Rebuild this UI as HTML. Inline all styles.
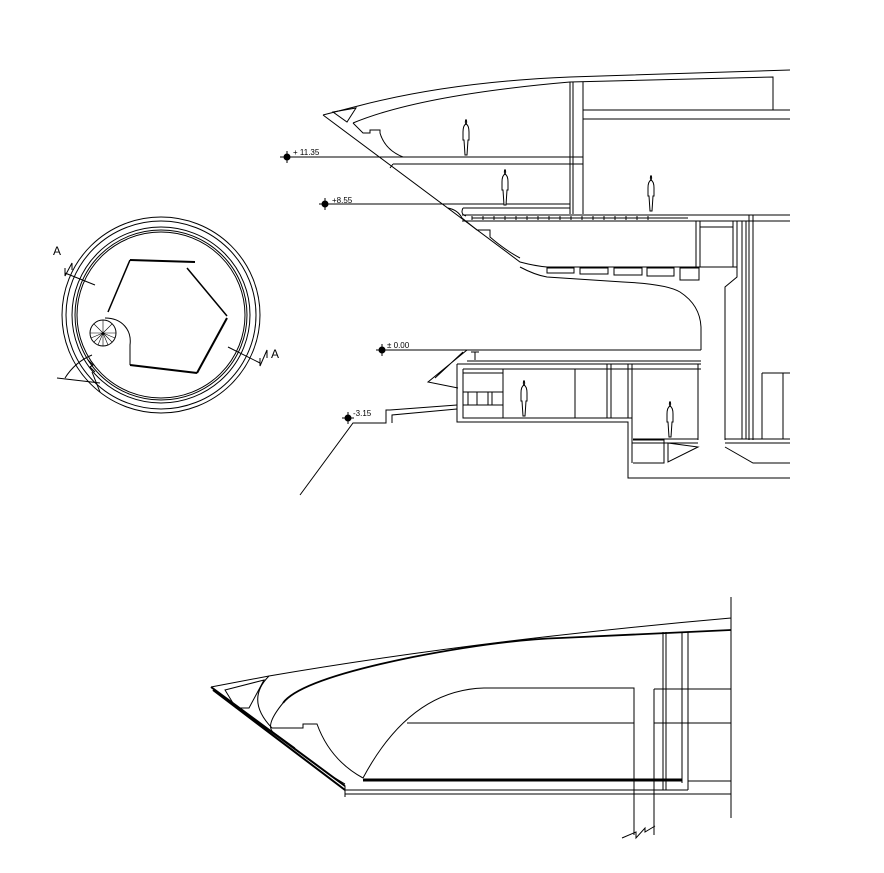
<!DOCTYPE html>
<html><head><meta charset="utf-8"><style>
html,body{margin:0;padding:0;background:#fff}
svg{display:block}
text{font-family:"Liberation Sans",sans-serif;fill:#000}
</style></head><body>
<svg width="884" height="873" viewBox="0 0 884 873" xmlns="http://www.w3.org/2000/svg">
<defs>
<g id="fig"><path d="M0,0 c-2,0 -2,3 -1,4 c-2,1 -3,3 -3,8 l0,8 l1,0 l1,15 l2,0 l1,-15 l1,0 l0,-8 c0,-5 -1,-7 -3,-8 c1,-1 1,-4 -1,-4z" fill="#fff" stroke="#000" stroke-width="1"/></g>
<g id="em"><circle r="3.5" fill="#000"/><line x1="-6" y1="0" x2="6" y2="0" stroke="#000"/><line x1="0" y1="-6" x2="0" y2="6" stroke="#000"/></g>
</defs>
<g fill="none" stroke="#000" stroke-width="1">
<ellipse cx="161" cy="315" rx="99" ry="98"/>
<ellipse cx="161" cy="315" rx="95" ry="94"/>
<ellipse cx="161" cy="315" rx="89" ry="88"/>
<ellipse cx="161" cy="315" rx="86" ry="85"/>
<ellipse cx="161" cy="315" rx="84" ry="83"/>
<path d="M130,260 L195,262" stroke-width="2"/>
<path d="M187,268 L227,316" stroke-width="1.5"/>
<path d="M227,318 L197,373" stroke-width="2"/>
<path d="M197,373 L130,365" stroke-width="2"/>
<path d="M130,260 L108,312" stroke-width="1.5"/>
<path d="M105,318 C122,318 132,330 130,345 L130,365"/>
<circle cx="103" cy="333" r="13"/>
<path d="M103,333 l-13,0 M103,333 l13,0 M103,333 l0,-13 M103,333 l0,13 M103,333 l-9,-9 M103,333 l9,9 M103,333 l9,-9 M103,333 l-9,9 M103,333 l-5,12 M103,333 l5,12 M103,333 l-12,5 M103,333 l12,5" stroke-width="0.6"/>
<path d="M65,273 L95,285 M65,268 L65,276 L72,263 L72,270"/>
<path d="M228,347 L260,363 M260,358 L260,366 L267,350 L267,358"/>
<path d="M57,378 L100,383 M65,378 Q75,362 92,355 M88,360 l5,5 l-3,2 l5,5 M92,372 L100,392"/>
<path d="M323,115 L358,106 Q450,82 570,77 L790,70"/>
<path d="M333,112 L356,108 L347,122 Z"/>
<path d="M353,123 Q420,95 570,82 L773,77 L773,110"/>
<path d="M583,110 L790,110 M583,119 L790,119"/>
<path d="M353,123 L363,133 L370,133 L370,130 L380,130 L380,133 Q385,150 403,157"/>
<path d="M570,82 L570,214 M573,82 L573,214 M583,82 L583,214"/>
<path d="M280,157 L583,157 M393,164 L583,164 M390,168 L393,164"/>
<path d="M320,204 L570,204"/>
<path d="M463,208 L570,208 M463,208 Q460,214 466,216"/>
<path d="M462,215 L790,215 M462,221 L790,221"/>
<path d="M472,216 l0,4 m11,-4 l0,4 m11,-4 l0,4 m11,-4 l0,4 m11,-4 l0,4 m11,-4 l0,4 m11,-4 l0,4 m11,-4 l0,4 m11,-4 l0,4 m11,-4 l0,4 m11,-4 l0,4 m11,-4 l0,4 m11,-4 l0,4 m11,-4 l0,4 m11,-4 l0,4 m11,-4 l0,4 m11,-4 l0,4 M472,218 L688,218"/>
<path d="M323,115 L520,262 Q535,266 547,267 L737,267"/>
<path d="M448,208 Q458,210 462,218 L477,230 L490,230 L490,237 Q505,250 520,258"/>
<path d="M520,267 Q535,275 547,277 L623,282 Q667,284 680,292 Q700,305 701,327 L701,350"/>
<path d="M547,268 l27,0 l0,5 l-27,0z M580,268 l28,0 l0,6 l-28,0z M614,268 l28,0 l0,7 l-28,0z M647,268 l27,0 l0,8 l-27,0z M680,268 l19,0 l0,12 l-19,0z"/>
<path d="M696,221 L696,267 M700,221 L700,267 M700,227 L733,227 M733,221 L733,267 M737,221 L737,277 L725,287 L725,440 M749,215 L749,440 M753,215 L753,440"/>
<path d="M377,350 L701,350 M467,361 L701,361 M457,364 L701,364 M463,369 L701,369"/>
<path d="M467,350 L428,382 L458,388 M463,352 L435,378 M475,352 L475,360 M471,352 L479,352"/>
<path d="M457,364 L457,422 L628,422 L628,478 L790,478 M463,369 L463,418 L632,418 M632,364 L632,463"/>
<path d="M698,364 L698,440 M633,439 L698,439 M632,443 L698,443 M633,440 L664,440 L664,463 L633,463 M668,443 L698,447 L668,462 Z"/>
<path d="M503,369 L503,418 M575,369 L575,418 M607,364 L607,418 M611,364 L611,418 M628,364 L628,418"/>
<path d="M463,373 L503,373 M463,392 L503,392 M463,405 L503,405 M468,392 l0,13 M477,392 l0,13 M488,392 l0,13 M492,392 l0,13"/>
<path d="M725,443 L790,443 M725,439 L790,439 M725,447 L753,463 L790,463 M742,221 L742,439 M746,221 L746,439 M762,373 L790,373 M762,373 L762,439 M783,373 L783,439"/>
<path d="M457,405 L390,410 L386,410 L386,423 L353,423 L300,495 M457,409 L392,415 L392,423"/>
<path d="M211,687 L269,676 Q480,640 731,618 M731,597 L731,818"/>
<path d="M225,690 L264,680 L249,708 L236,708 Z"/>
<path d="M269,676 Q245,700 272,728 L303,728 L303,724 L317,724 Q330,760 363,778"/>
<path d="M283,703 Q300,680 413,657 Q500,640 560,638 L731,630" stroke-width="1.8"/>
<path d="M283,703 Q265,725 273,732 L295,748"/>
<path d="M211,687 L345,786 M213,690 L345,790" stroke-width="2"/>
<path d="M330,775 L345,784"/>
<path d="M345,790 L688,790 M345,794 L731,794 M345,786 L345,797"/>
<path d="M363,780 L682,780" stroke-width="3"/>
<path d="M363,778 Q410,690 484,688 L634,688 L634,835 M407,723 L634,723"/>
<path d="M654,689 L731,689 M654,723 L731,723 M654,689 L654,835 M663,632 L663,790 M666,632 L666,790 M682,632 L682,783 M688,632 L688,790 M688,781 L731,781"/>
<path d="M622,838 L636,832 L636,838 L645,828 L645,832 L655,826"/>
</g>
<use href="#fig" x="467" y="120"/>
<use href="#fig" x="506" y="170"/>
<use href="#fig" x="652" y="176"/>
<use href="#fig" x="525" y="381"/>
<use href="#fig" x="671" y="402"/>
<use href="#em" x="287" y="157"/>
<use href="#em" x="325" y="204"/>
<use href="#em" x="382" y="350"/>
<use href="#em" x="348" y="418"/>
<text x="293" y="155" font-size="8">+ 11.35</text>
<text x="332" y="203" font-size="8">+8.55</text>
<text x="387" y="348" font-size="8">± 0.00</text>
<text x="353" y="416" font-size="8">-3.15</text>
<text x="53" y="255" font-size="12">A</text>
<text x="271" y="358" font-size="12">A</text>
</svg>
</body></html>
